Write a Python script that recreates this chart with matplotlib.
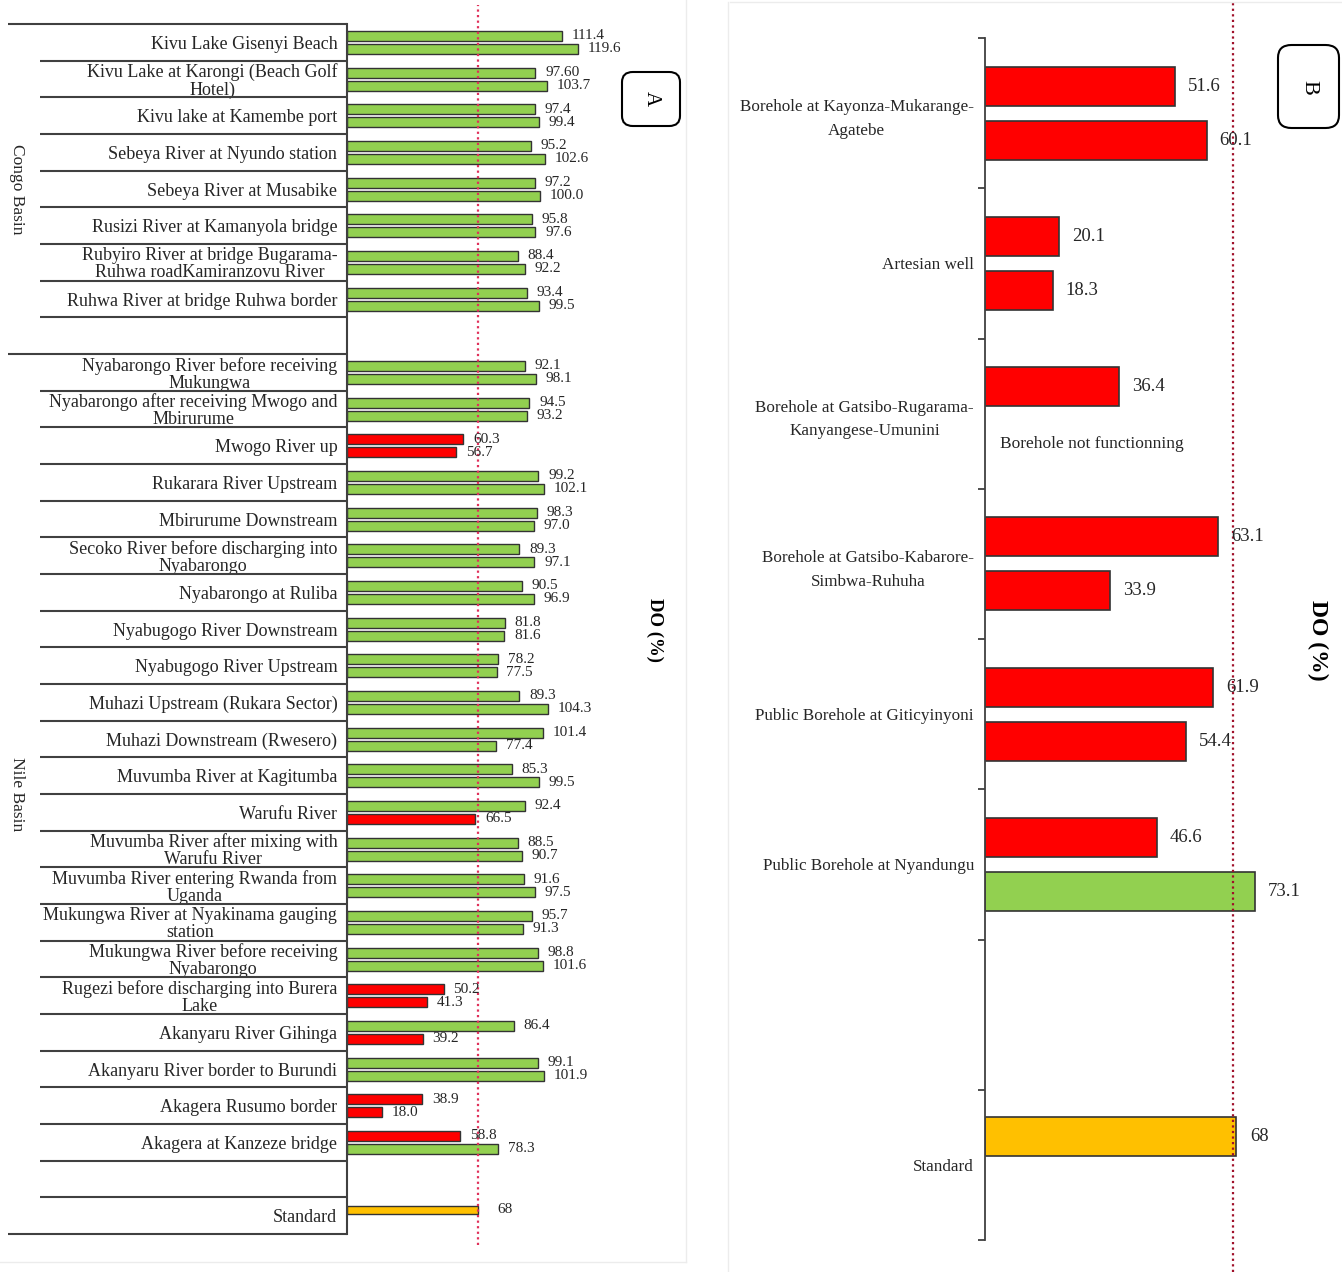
import numpy as np
import matplotlib.pyplot as plt
from matplotlib.patches import FancyBboxPatch
from matplotlib.lines import Line2D
from matplotlib.transforms import blended_transform_factory

plt.rcParams['font.family'] = ['Liberation Serif', 'DejaVu Serif']

# ── data: panel A (surface water, two campaigns) ──
congo_sites = ['Kivu Lake Gisenyi Beach',
               'Kivu Lake at Karongi (Beach Golf\nHotel)',
               'Kivu lake at Kamembe port',
               'Sebeya River at Nyundo station',
               'Sebeya River at Musabike',
               'Rusizi River at Kamanyola bridge',
               'Rubyiro River at bridge Bugarama-\nRuhwa roadKamiranzovu River',
               'Ruhwa River at bridge Ruhwa border']
congo_first = ['111.4', '97.60', '97.4', '95.2', '97.2', '95.8', '88.4', '93.4']
congo_second = ['119.6', '103.7', '99.4', '102.6', '100.0', '97.6', '92.2', '99.5']

nile_sites = ['Nyabarongo River before receiving\nMukungwa',
              'Nyabarongo after receiving Mwogo and\nMbirurume',
              'Mwogo River up',
              'Rukarara River Upstream',
              'Mbirurume Downstream',
              'Secoko River before discharging into\nNyabarongo',
              'Nyabarongo at Ruliba',
              'Nyabugogo River Downstream',
              'Nyabugogo River Upstream',
              'Muhazi Upstream (Rukara Sector)',
              'Muhazi Downstream (Rwesero)',
              'Muvumba River at Kagitumba',
              'Warufu River',
              'Muvumba River after mixing with\nWarufu River',
              'Muvumba River entering Rwanda from\nUganda',
              'Mukungwa River at Nyakinama gauging\nstation',
              'Mukungwa River before receiving\nNyabarongo',
              'Rugezi before discharging into Burera\nLake',
              'Akanyaru River Gihinga',
              'Akanyaru River border to Burundi',
              'Akagera Rusumo border',
              'Akagera at Kanzeze bridge']
nile_first = ['92.1', '94.5', '60.3', '99.2', '98.3', '89.3', '90.5', '81.8', '78.2',
              '89.3', '101.4', '85.3', '92.4', '88.5', '91.6', '95.7', '98.8', '50.2',
              '86.4', '99.1', '38.9', '58.8']
nile_second = ['98.1', '93.2', '56.7', '102.1', '97.0', '97.1', '96.9', '81.6', '77.5',
               '104.3', '77.4', '99.5', '66.5', '90.7', '97.5', '91.3', '101.6', '41.3',
               '39.2', '101.9', '18.0', '78.3']

standard = 68

# ── data: panel B (groundwater) ──
b_sites = ['Borehole at Kayonza-Mukarange-\nAgatebe',
           'Artesian well',
           'Borehole at Gatsibo-Rugarama-\nKanyangese-Umunini',
           'Borehole at Gatsibo-Kabarore-\nSimbwa-Ruhuha',
           'Public Borehole at Giticyinyoni',
           'Public Borehole at Nyandungu',
           '',
           'Standard']
b_first = [51.6, 20.1, 36.4, 63.1, 61.9, 46.6]
b_second = [60.1, 18.3, np.nan, 33.9, 54.4, 73.1]

GREEN = '#92D050'
RED = '#FF0000'
GOLD = '#FFC000'
EDGE = '#333333'
TXT = '#262626'


def colour(v):
    return RED if v < standard else GREEN


W, H = 1342, 1272
fig = plt.figure(figsize=(W / 100, H / 100), dpi=100)

# ════════════════════════════════════════
# PANEL A
# ════════════════════════════════════════
axA = fig.add_axes([347 / W, 0, (685 - 347) / W, 1])
rows_a = congo_sites + [''] + nile_sites + [''] + ['Standard']
first_a = congo_first + [''] + nile_first + ['', '']
second_a = congo_second + [''] + nile_second + ['', '']
n_a = len(rows_a)
row_px = (1234 - 24) / n_a
axA.set_ylim((H - 24) / row_px, -24 / row_px)
axA.set_xlim(0, (685 - 347) / 1.93)

for i in range(n_a):
    for txt, off in ((first_a[i], -0.175), (second_a[i], 0.18)):
        if txt == '':
            continue
        v = float(txt)
        axA.barh(i + 0.5 + off, v, height=0.27, color=colour(v),
                 edgecolor=EDGE, linewidth=1)
        axA.text(v + 5, i + 0.5 + off, txt, ha='left', va='center',
                 fontsize=11, color=TXT)

# standard bar
i_std = n_a - 1
axA.barh(i_std + 0.5 - 0.16, standard, height=0.22, color=GOLD,
         edgecolor=EDGE, linewidth=1)
axA.text(standard + 10, i_std + 0.5 - 0.16, str(standard), ha='left',
         va='center', fontsize=11, color=TXT)

axA.set_yticks(np.arange(n_a) + 0.5)
axA.set_yticklabels(rows_a, fontsize=13, color=TXT)
for lab in axA.get_yticklabels():
    lab.set_multialignment('center')
    lab.set_linespacing(1.0)
axA.tick_params(axis='y', length=0, pad=7)
axA.set_xticks([])
for s in ('top', 'right', 'bottom'):
    axA.spines[s].set_visible(False)
axA.spines['left'].set_bounds(0, n_a)
axA.spines['left'].set_color('#404040')
axA.spines['left'].set_linewidth(1.5)
axA.patch.set_alpha(0)

# row separators
trA = blended_transform_factory(axA.transAxes, axA.transData)
x_short = (40 - 347) / (685 - 347)
x_long = (8 - 347) / (685 - 347)
n_congo = len(congo_sites)
long_rows = [0, n_congo + 1, n_a]
for b in range(n_a + 1):
    if b in long_rows:
        x0 = x_long
    elif b == n_congo + 1 + len(nile_sites) + 1 or b in range(1, n_congo + 1) \
            or b in range(n_congo + 2, n_congo + 2 + len(nile_sites)):
        x0 = x_short
    else:
        continue
    axA.plot([x0, 0], [b, b], transform=trA, color='#404040', lw=1.5,
             clip_on=False, solid_capstyle='butt')

axA.text((17 - 347) / (685 - 347), n_congo / 2 + 0.5, 'Congo Basin', transform=trA,
         rotation=-90, ha='center', va='center', fontsize=12.5, color=TXT)
axA.text((17 - 347) / (685 - 347), 21, 'Nile Basin', transform=trA,
         rotation=-90, ha='center', va='center', fontsize=12.5, color=TXT)

axA.axvline(standard, ymin=1 - 1245 / H, ymax=1 - 5 / H, color='#E0305A',
            ls=(0, (1, 1.5)), lw=1.6)

fig.text(655 / W, 1 - 630 / H, 'DO (%)', rotation=-90, weight='bold',
         fontsize=13.5, ha='center', va='center', color='black')
fig.add_artist(FancyBboxPatch((622 / W, 1 - 126 / H), 58 / W, 54 / H,
                              boxstyle='round,pad=0,rounding_size=0.008',
                              transform=fig.transFigure, fc='white',
                              ec='black', lw=1.5))
fig.text(651 / W, 1 - 99 / H, 'A', rotation=-90, fontsize=15,
         ha='center', va='center', color='black')

# ════════════════════════════════════════
# PANEL B
# ════════════════════════════════════════
axB = fig.add_axes([985 / W, 0, (W - 985) / W, 1])
n_b = len(b_sites)
rowb_px = (1240 - 38) / n_b
axB.set_ylim((H - 38) / rowb_px, -38 / rowb_px)
axB.set_xlim(0, (W - 985) / 3.69)

for i in range(len(b_first)):
    for v, off in ((b_first[i], -0.18), (b_second[i], 0.18)):
        if np.isnan(v):
            continue
        axB.barh(i + 0.5 + off, v, height=0.26, color=colour(v),
                 edgecolor=EDGE, linewidth=1.2)
        axB.text(v + 3.5, i + 0.5 + off, f'{v:.1f}', ha='left', va='center',
                 fontsize=13.5, color=TXT)

axB.barh(n_b - 0.5 - 0.19, standard, height=0.26, color=GOLD,
         edgecolor=EDGE, linewidth=1.2)
axB.text(standard + 3.8, n_b - 0.5 - 0.19, str(standard), ha='left',
         va='center', fontsize=13.5, color=TXT)

axB.text(4.2, 2.5 + 0.2, 'Borehole not functionning', ha='left',
         va='center', fontsize=12.5, color=TXT)

axB.set_yticks(np.arange(n_b + 1))
axB.set_yticklabels([])
axB.set_yticks(np.arange(n_b) + 0.5, minor=True)
axB.set_yticklabels(b_sites, minor=True, fontsize=12.3, color=TXT)
for lab in axB.get_yticklabels(minor=True):
    lab.set_multialignment('center')
    lab.set_linespacing(1.65)
axB.tick_params(axis='y', which='major', length=5, width=1.3, color='#404040')
axB.tick_params(axis='y', which='minor', length=0, pad=8)
axB.set_xticks([])
for s in ('top', 'right', 'bottom'):
    axB.spines[s].set_visible(False)
axB.spines['left'].set_bounds(0, n_b)
axB.spines['left'].set_color('#404040')
axB.spines['left'].set_linewidth(1.3)
axB.patch.set_alpha(0)

axB.axvline(standard - 0.8, ymin=0, ymax=1, color='#A0102A',
            ls=(0, (1, 1.5)), lw=1.6)

fig.text(1318 / W, 1 - 640 / H, 'DO (%)', rotation=-90, weight='bold',
         fontsize=17, ha='center', va='center', color='black')
fig.add_artist(FancyBboxPatch((1278 / W, 1 - 128 / H), 61 / W, 83 / H,
                              boxstyle='round,pad=0,rounding_size=0.01',
                              transform=fig.transFigure, fc='white',
                              ec='black', lw=1.5))
fig.text(1308.5 / W, 1 - 87 / H, 'B', rotation=-90, fontsize=16,
         ha='center', va='center', color='black')

# faint panel borders
for xs, ys in (([686, 686], [0, 1262]), ([0, 686], [1262, 1262]),
               ([730, W], [2, 2]), ([728, 728], [2, H])):
    fig.add_artist(Line2D([x / W for x in xs], [1 - y / H for y in ys],
                          color='#ececec', lw=1))

fig.savefig('out.png', dpi=100)
